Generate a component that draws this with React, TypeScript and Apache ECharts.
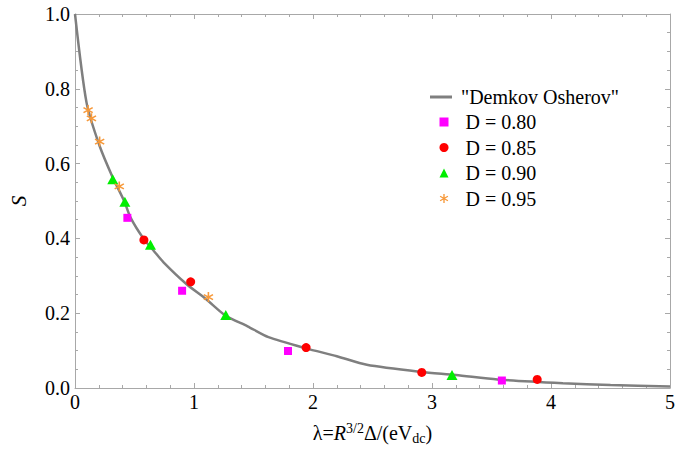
import React, { useEffect, useRef } from "react";
import * as echarts from "echarts";

const FONT = "serif";

// Demkov–Osherov curve: [lambda, S]
const curveLambda = [0, 0.097, 0.207, 0.317, 0.413, 0.468, 0.579, 0.661, 0.744, 0.936, 1.1, 1.267, 1.45, 1.626, 1.942, 2.2, 2.452, 2.91, 3.2, 3.55, 4.1, 4.5, 5.0];
const curveS = [1.0, 0.763, 0.647, 0.563, 0.5, 0.455, 0.398, 0.367, 0.336, 0.278, 0.238, 0.193, 0.165, 0.136, 0.106, 0.085, 0.062, 0.043, 0.035, 0.023, 0.013, 0.008, 0.004];

const d80Lambda = [0.44, 0.9, 1.79, 3.587];
const d80S = [0.455, 0.26, 0.099, 0.02];

const d85Lambda = [0.579, 0.972, 1.942, 2.914, 3.884];
const d85S = [0.396, 0.284, 0.108, 0.0416, 0.023];

const d90Lambda = [0.317, 0.419, 0.634, 1.267, 3.168];
const d90S = [0.558, 0.498, 0.383, 0.195, 0.035];

const d95Lambda = [0.11, 0.138, 0.207, 0.372, 1.121];
const d95S = [0.743, 0.721, 0.659, 0.539, 0.243];

const xTicks = { min: 0, max: 5, interval: 1 };
const yTicks = { min: 0, max: 1, interval: 0.2 };

const seriesNames = ['"Demkov Osherov"', "D = 0.80", "D = 0.85", "D = 0.90", "D = 0.95"];

const ASTERISK =
  "path://M-0.15,-1L0.15,-1L0.15,1L-0.15,1Z" +
  "M0.791,-0.630L0.941,-0.370L-0.791,0.630L-0.941,0.370Z" +
  "M-0.941,-0.370L-0.791,-0.630L0.941,0.370L0.791,0.630Z";

const zip = (a: number[], b: number[]) => a.map((v, i) => [v, b[i]]);

export default function App() {
  const ref = useRef<HTMLDivElement>(null);
  useEffect(() => {
    if (!ref.current) return;
    const chart = echarts.init(ref.current, undefined, { renderer: "svg" });
    const axisColor = "#a8a8a8";
    const baseAxis = (extra: any) => ({
      axisLine: { show: true, onZero: false, lineStyle: { color: axisColor, width: 1 } },
      axisTick: { show: true, inside: true, length: 5, lineStyle: { color: axisColor } },
      splitLine: { show: false },
      ...extra,
    });
    const legendText = { fontFamily: FONT, fontSize: 20, color: "#000" };
    const option: any = {
      animation: false,
      backgroundColor: "#fff",
      textStyle: { fontFamily: FONT },
      grid: { left: 70, right: 3, top: 14, bottom: 61, containLabel: false },
      xAxis: [
        baseAxis({
          type: "value",
          position: "bottom",
          ...xTicks,
          minorTick: { show: true, splitNumber: 5, length: 3, lineStyle: { color: axisColor } },
          axisLabel: { margin: 4, color: "#000", fontFamily: FONT, fontSize: 20, formatter: (v: number) => String(v) },
          name: "{n|λ=}{i|R}{sup|3/2}{n|Δ/(eV}{sub|dc}{n|)}",
          nameLocation: "middle",
          nameGap: 33,
          nameTextStyle: {
            color: "#000",
            fontFamily: FONT,
            fontSize: 20,
            rich: {
              n: { fontFamily: FONT, fontSize: 20, color: "#000", lineHeight: 24 },
              i: { fontFamily: FONT, fontSize: 20, fontStyle: "italic", color: "#000", lineHeight: 24 },
              sup: { fontFamily: FONT, fontSize: 14, color: "#000", verticalAlign: "top", lineHeight: 14 },
              sub: { fontFamily: FONT, fontSize: 14, color: "#000", verticalAlign: "bottom", lineHeight: 14 },
            },
          },
        }),
        baseAxis({
          type: "value",
          position: "top",
          ...xTicks,
          minorTick: { show: true, splitNumber: 5, length: 3, lineStyle: { color: axisColor } },
          axisLabel: { show: false },
        }),
      ],
      yAxis: [
        baseAxis({
          type: "value",
          position: "left",
          ...yTicks,
          minorTick: { show: true, splitNumber: 4, length: 3, lineStyle: { color: axisColor } },
          axisLabel: { margin: 5, color: "#000", fontFamily: FONT, fontSize: 20, formatter: (v: number) => v.toFixed(1) },
          name: "S",
          nameLocation: "middle",
          nameGap: 46,
          nameTextStyle: { color: "#000", fontFamily: FONT, fontSize: 21, fontStyle: "italic" },
        }),
        baseAxis({
          type: "value",
          position: "right",
          ...yTicks,
          minorTick: { show: true, splitNumber: 4, length: 3, lineStyle: { color: axisColor } },
          axisLabel: { show: false },
        }),
      ],
      legend: [
        {
          data: [{ name: seriesNames[0], icon: "path://M0,0L22,0L22,3L0,3Z", itemStyle: { color: "#7f7f7f" } }],
          left: 425,
          top: 82,
          itemWidth: 22,
          itemHeight: 3,
          textStyle: { ...legendText, padding: [0, 0, 0, 4] },
        },
        {
          data: seriesNames.slice(1),
          orient: "vertical",
          left: 434.5,
          top: 107,
          itemWidth: 9,
          itemHeight: 9,
          itemGap: 5.5,
          textStyle: { ...legendText, padding: [0, 0, 0, 12] },
        },
      ],
      series: [
        {
          name: seriesNames[0],
          type: "line",
          data: zip(curveLambda, curveS),
          showSymbol: false,
          symbol: "none",
          smooth: 0.25,
          lineStyle: { color: "#7f7f7f", width: 2.5 },
          itemStyle: { color: "#7f7f7f" },
          z: 2,
        },
        {
          name: seriesNames[1],
          type: "scatter",
          data: zip(d80Lambda, d80S),
          symbol: "rect",
          symbolSize: 8,
          itemStyle: { color: "#ff00ff", opacity: 1 },
          z: 3,
        },
        {
          name: seriesNames[2],
          type: "scatter",
          data: zip(d85Lambda, d85S),
          symbol: "circle",
          symbolSize: 9,
          itemStyle: { color: "#ff0000", opacity: 1 },
          z: 3,
        },
        {
          name: seriesNames[3],
          type: "scatter",
          data: zip(d90Lambda, d90S),
          symbol: "triangle",
          symbolSize: [11, 10],
          itemStyle: { color: "#00ee00", opacity: 1 },
          z: 3,
        },
        {
          name: seriesNames[4],
          type: "scatter",
          data: zip(d95Lambda, d95S),
          symbol: ASTERISK,
          symbolSize: [10, 10],
          itemStyle: { color: "#f7993a", opacity: 1 },
          z: 3,
        },
      ],
    };
    chart.setOption(option);
    return () => chart.dispose();
  }, []);
  return <div ref={ref} style={{ width: 678, height: 450, position: "absolute", left: 0, top: 0 }} />;
}
